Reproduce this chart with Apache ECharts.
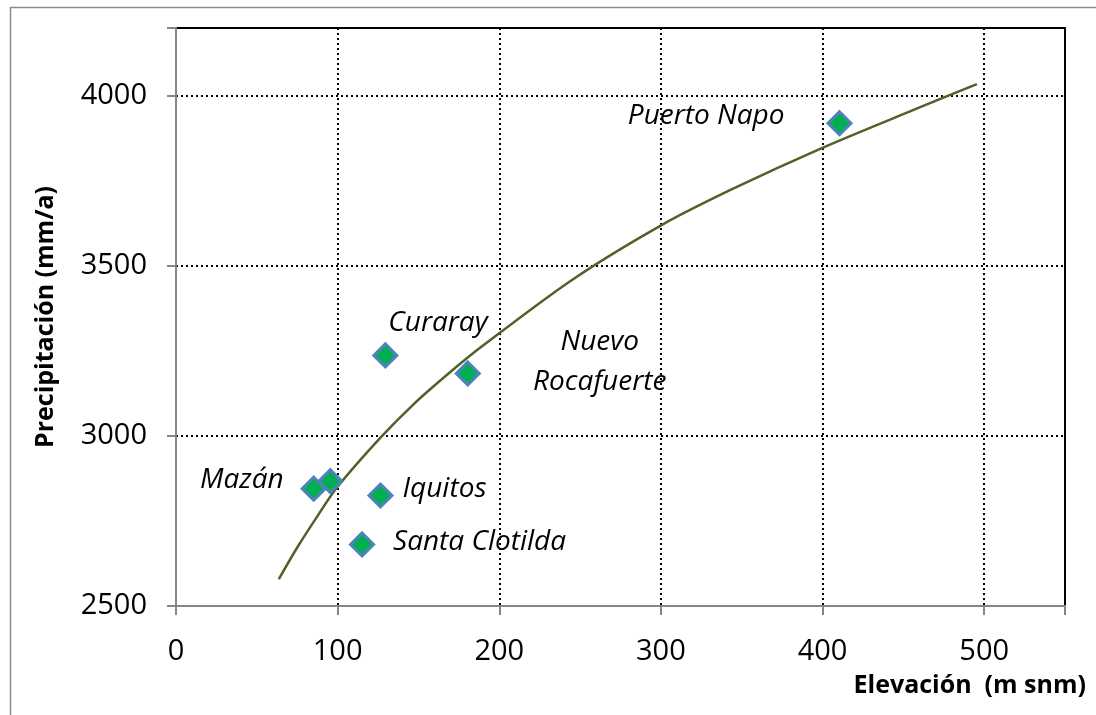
<!DOCTYPE html>
<html>
<head>
<meta charset="utf-8">
<script src="https://cdn.jsdelivr.net/npm/echarts@6/dist/echarts.min.js"></script>
<style>
html,body{margin:0;padding:0;background:#fff;}
#chart{width:1096px;height:715px;}
</style>
</head>
<body>
<div id="chart"></div>
<script>
// Stations (elevation m snm, precipitation mm/a)
const stationNames = ["Puerto Napo", "Curaray", "Nuevo\nRocafuerte", "Mazán", "", "Iquitos", "Santa Clotilda"];
const stationElev  = [410.5, 129.5, 180.5, 85.2, 95.5, 126.5, 115.1];
const stationPrecip = [3920, 3237, 3184, 2845, 2867, 2825, 2681];

// Trend curve
const trendElev   = [63.6, 75, 87.3, 99.7, 126.5, 147.1, 167.7, 188.3, 245, 300.7, 345, 400.6, 456.3, 495.5];
const trendPrecip = [2579, 2672, 2763, 2849, 2995, 3094, 3180, 3260, 3459, 3621, 3728, 3849, 3959, 4035];

const xTicks = [0, 100, 200, 300, 400, 500];
const yTicks = [2500, 3000, 3500, 4000];

const labelLayout = {
  "Puerto Napo": {align: 'right', offset: [-55, -7]},
  "Curaray": {align: 'left', offset: [3, -32]},
  "Nuevo\nRocafuerte": {align: 'center', offset: [132, -11]},
  "Mazán": {align: 'right', offset: [-30, -9]},
  "Iquitos": {align: 'left', offset: [22, -6]},
  "Santa Clotilda": {align: 'left', offset: [31, -2]}
};

const FONT = '"Open Sans", "Liberation Sans", sans-serif';

const scatterData = stationNames.map((n, i) => {
  const item = {name: n, value: [stationElev[i], stationPrecip[i]]};
  const lay = labelLayout[n];
  if (lay) {
    item.label = {show: true, position: 'inside', align: lay.align, verticalAlign: 'middle', offset: lay.offset,
      color: '#000', opacity: 1, fontSize: 28, fontStyle: 'italic', fontFamily: FONT, lineHeight: 40};
  } else {
    item.label = {show: false};
  }
  return item;
});

const chart = echarts.init(document.getElementById('chart'), null, {renderer: 'canvas'});
chart.setOption({
  animation: false,
  backgroundColor: '#fff',
  grid: {left: 176, right: 31, top: 28, bottom: 109, show: true, borderColor: '#000', borderWidth: 2, backgroundColor: 'transparent'},
  xAxis: {
    type: 'value', min: 0, max: 550, interval: 100,
    axisLine: {show: true, onZero: false, lineStyle: {color: '#868686', width: 2}},
    axisTick: {show: true, length: 9, lineStyle: {color: '#868686', width: 2}},
    axisLabel: {color: '#000', fontSize: 29, fontFamily: FONT, margin: 31,
      formatter: v => xTicks.includes(v) ? String(v) : ''},
    splitLine: {show: true, lineStyle: {color: '#000', type: [2, 3], width: 2}}
  },
  yAxis: {
    type: 'value', min: 2500, max: 4200, interval: 500,
    name: 'Precipitación (mm/a)', nameLocation: 'middle', nameGap: 118,
    nameTextStyle: {color: '#000', fontSize: 25, fontWeight: 'bold', fontFamily: FONT},
    axisLine: {show: true, lineStyle: {color: '#868686', width: 2}},
    axisTick: {show: true, length: 9, lineStyle: {color: '#868686', width: 2}},
    axisLabel: {color: '#000', fontSize: 29, fontFamily: FONT, margin: 29,
      formatter: v => yTicks.includes(v) ? String(v) : ''},
    splitLine: {show: true, lineStyle: {color: '#000', type: [2, 3], width: 2}}
  },
  graphic: [
    {type: 'rect', left: 8, top: 5, shape: {width: 1200, height: 800}, style: {fill: 'none', stroke: '#8c8c8c', lineWidth: 1.5}, silent: true},
    {type: 'text', right: 10, top: 673, style: {text: 'Elevación  (m snm)', fill: '#000', font: 'bold 25px ' + FONT}}
  ],
  series: [
    {
      type: 'line', data: trendElev.map((x, i) => [x, trendPrecip[i]]),
      smooth: 0.3, showSymbol: false, symbol: 'none',
      lineStyle: {color: '#4f6228', width: 2.5}, z: 2
    },
    {
      type: 'scatter', data: scatterData,
      symbol: 'diamond', symbolSize: 23,
      itemStyle: {color: '#00b050', borderColor: '#4f81bd', borderWidth: 3, opacity: 1},
      label: {color: '#000', fontSize: 28, fontStyle: 'italic', fontFamily: FONT, lineHeight: 40,
        formatter: p => p.name},
      z: 3
    }
  ]
});
</script>
</body>
</html>
